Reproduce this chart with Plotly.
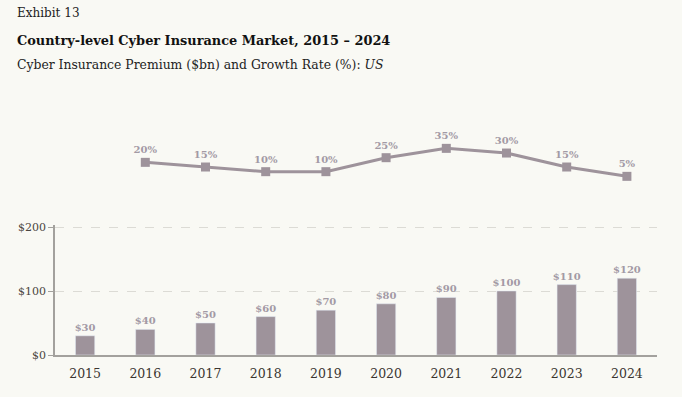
import plotly.graph_objects as go

years = ["2015", "2016", "2017", "2018", "2019", "2020", "2021", "2022", "2023", "2024"]
premium = [30, 40, 50, 60, 70, 80, 90, 100, 110, 120]
growth_years = ["2016", "2017", "2018", "2019", "2020", "2021", "2022", "2023", "2024"]
growth = [20, 15, 10, 10, 25, 35, 30, 15, 5]

H = 397.0
def py(px):
    return 1 - px / H

bg = "#f9f9f4"
bar_color = "#9e939b"
label_color = "#a39aa5"
font_fam = "DejaVu Serif, Georgia, serif"
XL = (15 - 55) / 602.0
YMAX = 202.5
TOP_PX = 355 - 128 * YMAX / 200.0

fig = go.Figure()
fig.add_trace(go.Bar(
    x=years, y=premium, xaxis="x", yaxis="y",
    marker=dict(color=bar_color), width=0.32,
    text=["$%d" % v for v in premium], textposition="outside", constraintext="none",
    textfont=dict(color=label_color, size=10, family=font_fam, weight="bold"),
    cliponaxis=False, showlegend=False,
))
fig.add_trace(go.Scatter(
    x=growth_years, y=growth, xaxis="x2", yaxis="y2",
    mode="lines+markers+text",
    line=dict(color=bar_color, width=3),
    marker=dict(symbol="square", size=9, color=bar_color),
    text=["%d%%" % v for v in growth], textposition="top center",
    textfont=dict(color=label_color, size=10, family=font_fam, weight="bold"),
    cliponaxis=False, showlegend=False,
))

fig.update_layout(
    width=682, height=397, autosize=False,
    margin=dict(l=55, r=25, t=0, b=0, autoexpand=False),
    paper_bgcolor=bg, plot_bgcolor=bg,
    font=dict(family=font_fam, color="#333333"),
    xaxis=dict(domain=[0, 1], type="category", categoryorder="array", categoryarray=years,
               range=[-0.5, 9.5], showline=True, linecolor="#a3a19d", linewidth=2,
               ticks="", showgrid=False, tickfont=dict(size=12.5, color="#3a3530"),
               ticklabelstandoff=6, anchor="y", fixedrange=True, automargin=False),
    yaxis=dict(domain=[py(355), py(TOP_PX)], range=[0, YMAX], tickvals=[0, 100, 200],
               ticktext=["$0", "$100", "$200"], showline=True, linecolor="#a3a19d",
               linewidth=1.5, ticks="outside", ticklen=5, tickcolor="#a3a19d",
               showgrid=True, gridcolor="#dcdbd5", griddash="dash", gridwidth=1,
               zeroline=False, tickfont=dict(size=11, color="#4a4540"), anchor="x",
               automargin=False),
    xaxis2=dict(domain=[0, 1], type="category", categoryorder="array", categoryarray=years,
                range=[-0.5, 9.5], visible=False, anchor="y2", automargin=False),
    yaxis2=dict(domain=[py(181), py(143.7)], range=[0, 40], visible=False, anchor="x2",
                automargin=False),
)

fig.add_annotation(text="Exhibit 13", xref="paper", yref="paper", x=XL, y=py(4),
                   xanchor="left", yanchor="top", showarrow=False,
                   font=dict(size=12, color="#222222", family=font_fam))
fig.add_annotation(text="<b>Country-level Cyber Insurance Market, 2015 – 2024</b>", xref="paper", yref="paper",
                   x=XL, y=py(31), xanchor="left", yanchor="top", showarrow=False,
                   font=dict(size=12.9, color="#111111", family=font_fam))
fig.add_annotation(text="Cyber Insurance Premium ($bn) and Growth Rate (%): <i>US</i>", xref="paper", yref="paper",
                   x=XL, y=py(55), xanchor="left", yanchor="top", showarrow=False,
                   font=dict(size=12.4, color="#222222", family=font_fam))

fig.write_html(
    "out.html",
    config={"displayModeBar": False},
    post_script="document.body.style.margin='0';document.body.style.background='%s';"
                "document.documentElement.style.background='%s';" % (bg, bg),
)
